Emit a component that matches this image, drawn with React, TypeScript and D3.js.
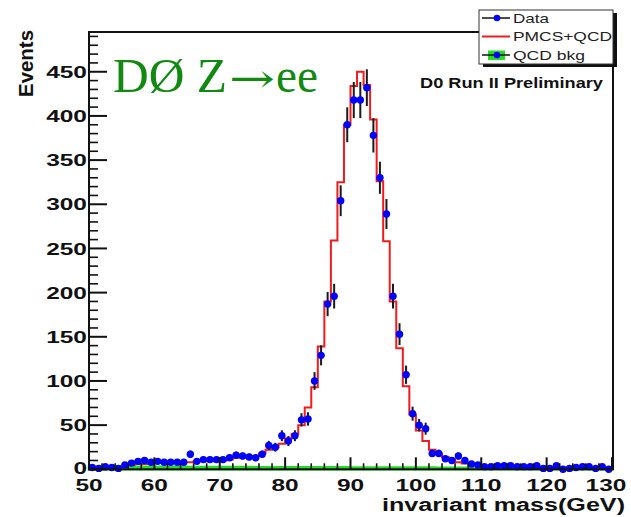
import React from 'react';
import * as d3 from 'd3';

// 1 GeV bins, lower edges 50..129
const binLow: number[] = d3.range(50, 130);

const dataCounts: number[] = [
  2, 1, 3, 2, 1, 5, 7, 9, 10, 8,          // 50-59
  9, 8, 8, 8, 8, 17, 9, 11, 11, 11,       // 60-69
  11, 13, 16, 15, 14, 13, 17, 27, 25, 38, // 70-79
  32, 38, 56, 57, 100, 129, 187, 196, 304, 390, // 80-89
  418, 418, 432, 378, 330, 289, 196, 153, 107, 63, // 90-99
  50, 46, 18, 18, 12, 10, 15, 10, 6, 5,   // 100-109
  3, 3, 4, 4, 4, 3, 3, 3, 4, 1,           // 110-119
  1, 4, 0, 1, 2, 3, 3, 1, 3, 0,           // 120-129
];

const mcCounts: number[] = [
  1, 1, 2, 2, 3, 4, 5, 6, 6, 7,
  7, 7, 8, 8, 8, 8, 9, 9, 9, 10,
  10, 11, 13, 13, 14, 15, 18, 22, 25, 29,
  35, 40, 50, 70, 93, 139, 190, 259, 325, 390,
  434, 450, 435, 396, 326, 258, 190, 137, 94, 62,
  44, 32, 22, 18, 14, 11, 8, 6.5, 5.3, 4.5,
  4, 3.5, 3.3, 3, 3, 2.8, 2.6, 2.5, 2.3, 2.2,
  2, 2, 1.8, 1.7, 1.6, 1.5, 1.4, 1.3, 1.2, 1.1,
];

const qcdCounts: number[] = [
  3, 3, 3, 3, 3, 3, 3, 3, 3, 3,
  2.8, 2.8, 2.8, 2.8, 2.8, 2.6, 2.6, 2.6, 2.6, 2.6,
  2.5, 2.5, 2.5, 2.5, 2.5, 2.4, 2.4, 2.4, 2.4, 2.4,
  2.3, 2.3, 2.3, 2.3, 2.3, 2.2, 2.2, 2.2, 2.2, 2.2,
  2.1, 2.1, 2.1, 2.1, 2, 2, 2, 2, 2, 2,
  1.9, 1.9, 1.9, 1.8, 1.8, 1.8, 1.7, 1.7, 1.7, 1.6,
  1.6, 1.6, 1.5, 1.5, 1.5, 1.4, 1.4, 1.4, 1.3, 1.3,
  1.3, 1.2, 1.2, 1.2, 1.1, 1.1, 1.1, 1, 1, 1,
];

const xTicks: number[] = [50, 60, 70, 80, 90, 100, 110, 120, 130];
const yTicks: number[] = [0, 50, 100, 150, 200, 250, 300, 350, 400, 450];
const legendLabels: string[] = ['Data', 'PMCS+QCD', 'QCD bkg'];

const SANS = '"Liberation Sans", Arial, Helvetica, sans-serif';
const SERIF = '"Liberation Serif", "Times New Roman", "DejaVu Serif", serif';

export default function App() {
  const W = 631;
  const H = 517;
  const x = d3.scaleLinear().domain([50, 130]).range([89, 612]);
  const y = d3.scaleLinear().domain([0, 495]).range([469.3, 32]);

  const stepPts = (vals: number[]) => [
    ...binLow.map((b, i) => [b, vals[i]] as [number, number]),
    [130, vals[vals.length - 1]] as [number, number],
  ];

  const line = d3
    .line<[number, number]>()
    .x((d) => x(d[0]))
    .y((d) => y(d[1]))
    .curve(d3.curveStepAfter);

  const area = d3
    .area<[number, number]>()
    .x((d) => x(d[0]))
    .y0(y(0))
    .y1((d) => y(d[1]))
    .curve(d3.curveStepAfter);

  const xMinor = d3.range(52, 130, 2).filter((v) => v % 10 !== 0);
  const yMinor = d3.range(10, 495, 10).filter((v) => v % 50 !== 0);

  const frameL = 89, frameR = 613, frameT = 32, frameB = y(0);

  return (
    <svg
      width={W}
      height={H}
      style={{ position: 'absolute', left: 0, top: 0, background: '#fff' }}
      xmlns="http://www.w3.org/2000/svg"
    >
      <rect x={0} y={0} width={W} height={H} fill="#fff" />

      {/* QCD background */}
      <path d={area(stepPts(qcdCounts)) || ''} fill="#22dd22" stroke="#22dd22" strokeWidth={2.5} />

      {/* MC histogram */}
      <path d={line(stepPts(mcCounts)) || ''} fill="none" stroke="#ee1c1c" strokeWidth={2} />

      {/* Data error bars */}
      <g stroke="#1a1a1a">
        {binLow.map((b, i) => {
          const v = dataCounts[i];
          const e = Math.sqrt(v);
          const cx = x(b + 0.5);
          return (
            <g key={'e' + b}>
              <line x1={cx} x2={cx} y1={y(Math.max(0, v - e))} y2={y(v + e)} strokeWidth={2} />
              <line x1={x(b)} x2={x(b + 1)} y1={y(v)} y2={y(v)} strokeWidth={1.5} />
            </g>
          );
        })}
      </g>
      <g fill="#0000ff">
        {binLow.map((b, i) => (
          <circle key={'m' + b} cx={x(b + 0.5)} cy={y(dataCounts[i])} r={3.7} />
        ))}
      </g>

      {/* Frame */}
      <rect
        x={frameL}
        y={frameT}
        width={frameR - frameL}
        height={frameB - frameT}
        fill="none"
        stroke="#111"
        strokeWidth={2}
      />

      {/* Ticks */}
      <g stroke="#111">
        {xTicks.map((t) => (
          <line key={'xt' + t} x1={x(t)} x2={x(t)} y1={frameB} y2={frameB - 12} strokeWidth={2} />
        ))}
        {xMinor.map((t) => (
          <line key={'xm' + t} x1={x(t)} x2={x(t)} y1={frameB} y2={frameB - 6} strokeWidth={1.6} />
        ))}
        {yTicks.map((t) => (
          <line key={'yt' + t} x1={frameL - 1} x2={frameL + 18} y1={y(t)} y2={y(t)} strokeWidth={2} />
        ))}
        {yMinor.map((t) => (
          <line key={'ym' + t} x1={frameL} x2={frameL + 9} y1={y(t)} y2={y(t)} strokeWidth={1.6} />
        ))}
      </g>

      {/* Tick labels */}
      <g fontFamily={SANS} fontWeight="bold" fontSize={17} fill="#111">
        {xTicks.map((t, i) => (
          <text
            key={'xl' + t}
            x={x(t) - (i === xTicks.length - 1 ? 6 : 0)}
            y={491}
            textAnchor="middle"
            textLength={String(t).length * 13.6}
            lengthAdjust="spacingAndGlyphs"
          >
            {t}
          </text>
        ))}
        {yTicks.map((t, i) => (
          <text
            key={'yl' + t}
            x={87}
            y={y(t) + (i === 0 ? 5 : 6.2)}
            textAnchor="end"
            fontSize={i === 0 ? 16 : 17}
            textLength={String(t).length * 13.6}
            lengthAdjust="spacingAndGlyphs"
          >
            {t}
          </text>
        ))}
      </g>

      {/* Axis titles */}
      <text
        x={625}
        y={511}
        textAnchor="end"
        fontFamily={SANS}
        fontWeight="bold"
        fontSize={17.5}
        fill="#111"
        textLength={243}
        lengthAdjust="spacingAndGlyphs"
      >
        invariant mass(GeV)
      </text>
      <text
        transform="translate(33,30) rotate(-90)"
        textAnchor="end"
        fontFamily={SANS}
        fontWeight="bold"
        fontSize={20}
        fill="#111"
        textLength={67}
        lengthAdjust="spacingAndGlyphs"
      >
        Events
      </text>

      {/* Annotations */}
      <text y={92} fontFamily={SERIF} fontSize={48} fill="#128a12">
        <tspan x={113} textLength={114} lengthAdjust="spacingAndGlyphs">DØ Z</tspan>
        <tspan
          x={229}
          fontFamily='"DejaVu Serif", "DejaVu Sans", serif'
          fontSize={40}
          textLength={46}
          lengthAdjust="spacingAndGlyphs"
        >
          →
        </tspan>
        <tspan x={276} textLength={42} lengthAdjust="spacingAndGlyphs">ee</tspan>
      </text>
      <text
        x={420}
        y={88}
        fontFamily={SANS}
        fontWeight="bold"
        fontSize={15.5}
        fill="#111"
        textLength={183}
        lengthAdjust="spacingAndGlyphs"
      >
        D0 Run II Preliminary
      </text>

      {/* Legend */}
      <g>
        <rect x={483} y={13} width={134} height={54} fill="#111" />
        <rect x={479} y={10} width={134} height={54} fill="#fff" stroke="#333" strokeWidth={1} />
        {legendLabels.map((lab, i) => {
          const cy = [18, 36.5, 55][i];
          return (
            <g key={lab}>
              {i === 2 && <rect x={488} y={cy - 4.5} width={17} height={9.5} fill="#22dd22" />}
              {i === 1 ? (
                <line x1={482} x2={510} y1={cy} y2={cy} stroke="#ee1c1c" strokeWidth={2} />
              ) : (
                <line x1={482} x2={510} y1={cy} y2={cy} stroke="#111" strokeWidth={1.5} />
              )}
              {i !== 1 && <circle cx={497} cy={cy} r={3.3} fill="#0000ff" />}
              <text
                x={513}
                y={cy + 4.7}
                fontFamily={SANS}
                fontSize={13.5}
                fill="#222"
                textLength={[36, 99, 72][i]}
                lengthAdjust="spacingAndGlyphs"
              >
                {lab}
              </text>
            </g>
          );
        })}
      </g>
    </svg>
  );
}
